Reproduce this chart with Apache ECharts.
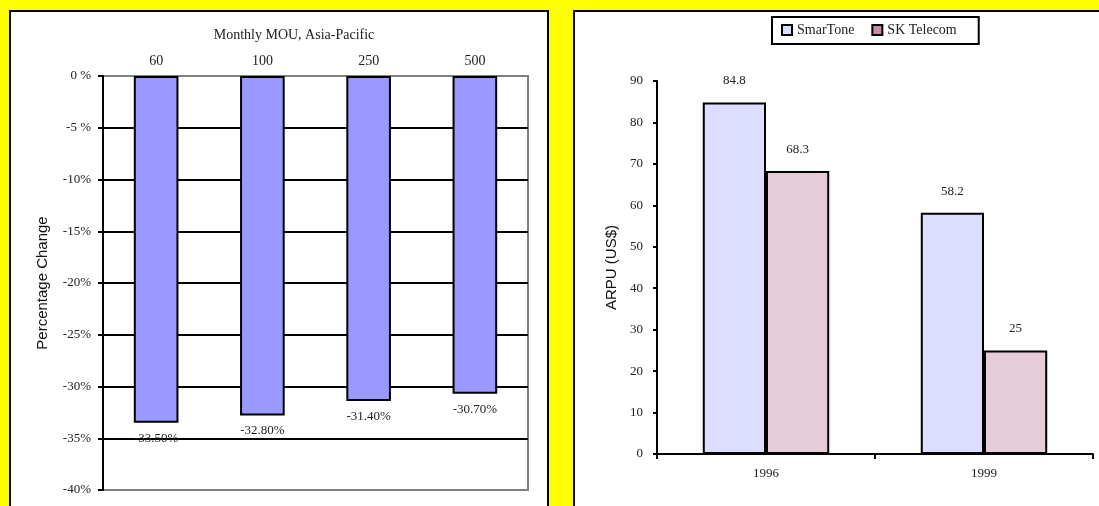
<!DOCTYPE html>
<html>
<head>
<meta charset="utf-8">
<script src="https://cdn.jsdelivr.net/npm/echarts@6/dist/echarts.min.js"></script>
<style>
html,body{margin:0;padding:0;background:#FFFF00;}
#chart{width:1099px;height:506px;}
</style>
</head>
<body>
<div id="chart"></div>
<script>
// ---- Data ----
const mouTitle = 'Monthly MOU, Asia-Pacific';
const mouCategories = ['60', '100', '250', '500'];
const mouChange = [-33.5, -32.8, -31.4, -30.7];
const pctTickValues = [0, -5, -10, -15, -20, -25, -30, -35, -40];
const pctTickLabels = ['0 %', '-5 %', '-10%', '-15%', '-20%', '-25%', '-30%', '-35%', '-40%'];

const years = ['1996', '1999'];
const smarTone = [84.8, 58.2];
const skTelecom = [68.3, 25];
const seriesNames = ['SmarTone', 'SK Telecom'];

// ---- Chart ----
const serif = 'Liberation Serif, Times New Roman, serif';
const sans = 'Liberation Sans, Arial, sans-serif';
const chart = echarts.init(document.getElementById('chart'));

const splitColors = pctTickValues.map(() => '#000');
// split lines are indexed from min (-40) upward; make the ends grey like the plot border
splitColors[0] = '#808080';
splitColors[splitColors.length - 1] = '#808080';

const option = {
  backgroundColor: '#FFFF00',
  animation: false,
  textStyle: { fontFamily: serif },
  graphic: [
    { type: 'rect', z: -100, shape: { x: 10, y: 11, width: 538, height: 530 },
      style: { fill: '#fff', stroke: '#000', lineWidth: 2 } },
    { type: 'rect', z: -100, shape: { x: 574, y: 11, width: 560, height: 530 },
      style: { fill: '#fff', stroke: '#000', lineWidth: 2 } }
  ],
  title: {
    text: mouTitle,
    left: 294, top: 28, padding: 0,
    textAlign: 'center',
    textStyle: { fontFamily: serif, fontSize: 14, fontWeight: 'normal', color: '#222' }
  },
  legend: {
    data: [
      { name: seriesNames[0] },
      { name: seriesNames[1], itemStyle: { color: '#C68DA6' } }
    ],
    left: 772, top: 17,
    orient: 'horizontal',
    icon: 'rect',
    itemWidth: 10, itemHeight: 10, itemGap: 17,
    backgroundColor: '#fff', borderColor: '#000', borderWidth: 2,
    padding: [6, 22, 7, 9],
    selectedMode: false,
    textStyle: { fontFamily: serif, fontSize: 14, color: '#222', padding: [0, 0, 4, 0] }
  },
  grid: [
    { left: 103, top: 76, width: 425, height: 414, show: true,
      borderColor: '#808080', borderWidth: 2, backgroundColor: 'transparent' },
    { left: 657, top: 81, width: 436, height: 373 }
  ],
  xAxis: [
    { gridIndex: 0, type: 'category', data: mouCategories, position: 'top',
      axisLine: { show: false }, axisTick: { show: false },
      axisLabel: { margin: 8, fontSize: 14, color: '#222', fontFamily: serif } },
    { gridIndex: 1, type: 'category', data: years,
      axisLine: { show: true, lineStyle: { color: '#000', width: 2 } },
      axisTick: { show: true, length: 5, alignWithLabel: false, lineStyle: { color: '#000', width: 2 } },
      axisLabel: { margin: 13, fontSize: 13, color: '#222', fontFamily: serif } }
  ],
  yAxis: [
    { gridIndex: 0, type: 'value', min: -40, max: 0, interval: 5,
      axisLine: { show: true, lineStyle: { color: '#000', width: 2 } },
      axisTick: { show: true, length: 5, lineStyle: { color: '#000', width: 2 } },
      axisLabel: { margin: 12, fontSize: 13, color: '#222', fontFamily: serif,
        formatter: v => pctTickLabels[pctTickValues.indexOf(v)] },
      splitLine: { show: true, lineStyle: { color: splitColors, width: 2 } },
      name: 'Percentage Change', nameLocation: 'middle', nameGap: 53, nameRotate: 90,
      nameTextStyle: { fontFamily: sans, fontSize: 15, color: '#111' } },
    { gridIndex: 1, type: 'value', min: 0, max: 90, interval: 10,
      axisLine: { show: true, lineStyle: { color: '#000', width: 2 } },
      axisTick: { show: true, length: 4, lineStyle: { color: '#000', width: 2 } },
      axisLabel: { margin: 14, fontSize: 13, color: '#222', fontFamily: serif },
      splitLine: { show: false },
      name: 'ARPU (US$)', nameLocation: 'middle', nameGap: 38, nameRotate: 90,
      nameTextStyle: { fontFamily: sans, fontSize: 15, color: '#111' } }
  ],
  series: [
    { type: 'bar', xAxisIndex: 0, yAxisIndex: 0, data: mouChange, barWidth: '42%',
      itemStyle: { color: '#9999FF', borderColor: '#000', borderWidth: 2 },
      label: { show: true, position: 'bottom', distance: 9, fontSize: 13, color: '#222',
        fontFamily: serif, formatter: p => p.value.toFixed(2) + '%' } },
    { type: 'bar', name: seriesNames[0], xAxisIndex: 1, yAxisIndex: 1, data: smarTone,
      barGap: '0%', barCategoryGap: '42%',
      itemStyle: { color: '#DDDDFF', borderColor: '#000', borderWidth: 2 },
      label: { show: true, position: 'top', distance: 15, fontSize: 13, color: '#222', fontFamily: serif } },
    { type: 'bar', name: seriesNames[1], xAxisIndex: 1, yAxisIndex: 1, data: skTelecom,
      barGap: '0%', barCategoryGap: '42%',
      itemStyle: { color: '#E6CCD9', borderColor: '#000', borderWidth: 2 },
      label: { show: true, position: 'top', distance: 15, fontSize: 13, color: '#222', fontFamily: serif } }
  ]
};
chart.setOption(option);
</script>
</body>
</html>
